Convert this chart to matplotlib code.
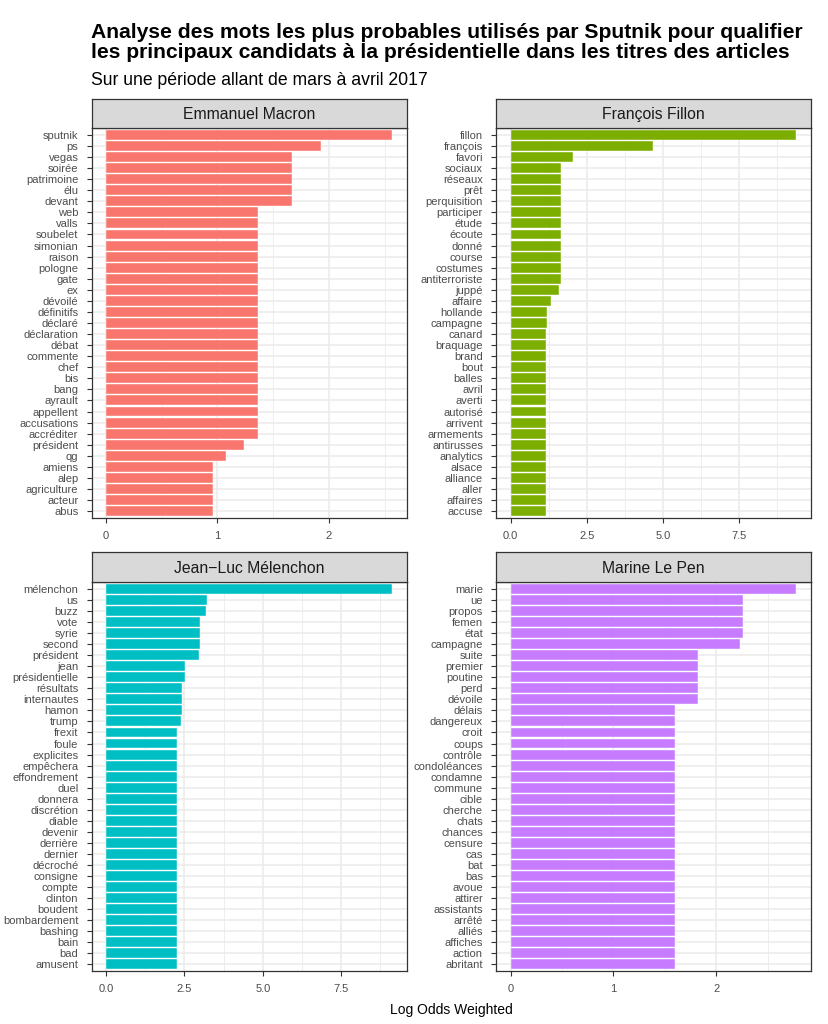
import matplotlib
matplotlib.use("Agg")
import matplotlib.pyplot as plt
import numpy as np

plt.rcParams['font.family'] = ['Liberation Sans', 'DejaVu Sans']

# ---------------- data ----------------
macron_words = ["sputnik", "ps", "vegas", "soirée", "patrimoine", "élu", "devant",
                "web", "valls", "soubelet", "simonian", "raison", "pologne", "gate", "ex",
                "dévoilé", "définitifs", "déclaré", "déclaration", "débat", "commente",
                "chef", "bis", "bang", "ayrault", "appellent", "accusations", "accréditer",
                "président", "qg", "amiens", "alep", "agriculture", "acteur", "abus"]
macron_values = [2.57, 1.93, 1.67, 1.67, 1.67, 1.67, 1.67,
                 1.36, 1.36, 1.36, 1.36, 1.36, 1.36, 1.36, 1.36,
                 1.36, 1.36, 1.36, 1.36, 1.36, 1.36,
                 1.36, 1.36, 1.36, 1.36, 1.36, 1.36, 1.36,
                 1.235, 1.075, 0.963, 0.963, 0.963, 0.963, 0.963]

fillon_words = ["fillon", "françois", "favori", "sociaux", "réseaux", "prêt", "perquisition",
                "participer", "étude", "écoute", "donné", "course", "costumes", "antiterroriste",
                "juppé", "affaire", "hollande", "campagne", "canard", "braquage", "brand", "bout",
                "balles", "avril", "averti", "autorisé", "arrivent", "armements", "antirusses",
                "analytics", "alsace", "alliance", "aller", "affaires", "accuse"]
fillon_values = [9.37, 4.66, 2.04, 1.66, 1.66, 1.66, 1.66,
                 1.66, 1.66, 1.66, 1.66, 1.66, 1.66, 1.66,
                 1.59, 1.34, 1.19, 1.19, 1.17, 1.17, 1.17, 1.17,
                 1.17, 1.17, 1.17, 1.17, 1.17, 1.17, 1.17,
                 1.17, 1.17, 1.17, 1.17, 1.17, 1.17]

melenchon_words = ["mélenchon", "us", "buzz", "vote", "syrie", "second", "président", "jean",
                   "présidentielle", "résultats", "internautes", "hamon", "trump", "frexit",
                   "foule", "explicites", "empêchera", "effondrement", "duel", "donnera",
                   "discrétion", "diable", "devenir", "derrière", "dernier", "décroché",
                   "consigne", "compte", "clinton", "boudent", "bombardement", "bashing",
                   "bain", "bad", "amusent"]
melenchon_values = [9.13, 3.23, 3.20, 3.00, 3.00, 3.00, 2.97, 2.53,
                    2.51, 2.41, 2.41, 2.41, 2.40, 2.25,
                    2.25, 2.25, 2.25, 2.25, 2.25, 2.25,
                    2.25, 2.25, 2.25, 2.25, 2.25, 2.25,
                    2.25, 2.25, 2.25, 2.25, 2.25, 2.25,
                    2.25, 2.25, 2.25]

lepen_words = ["marie", "ue", "propos", "femen", "état", "campagne", "suite", "premier",
               "poutine", "perd", "dévoile", "délais", "dangereux", "croit", "coups",
               "contrôle", "condoléances", "condamne", "commune", "cible", "cherche",
               "chats", "chances", "censure", "cas", "bat", "bas", "avoue", "attirer",
               "assistants", "arrêté", "alliés", "affiches", "action", "abritant"]
lepen_values = [2.78, 2.265, 2.265, 2.265, 2.265, 2.236, 1.82, 1.82,
                1.82, 1.82, 1.82, 1.60, 1.60, 1.60, 1.60,
                1.60, 1.60, 1.60, 1.60, 1.60, 1.60,
                1.60, 1.60, 1.60, 1.60, 1.60, 1.60, 1.60, 1.60,
                1.60, 1.60, 1.60, 1.60, 1.60, 1.60]

candidates = ["Emmanuel Macron", "François Fillon", "Jean\u2212Luc Mélenchon", "Marine Le Pen"]
colors = ["#F8766D", "#7CAE00", "#00BFC4", "#C77CFF"]
x_breaks = [[0, 1, 2], [0, 2.5, 5, 7.5], [0, 2.5, 5, 7.5], [0, 1, 2]]
x_labels = [["0", "1", "2"], ["0.0", "2.5", "5.0", "7.5"], ["0.0", "2.5", "5.0", "7.5"], ["0", "1", "2"]]

title_lines = ["Analyse des mots les plus probables utilisés par Sputnik pour qualifier",
               "les principaux candidats à la présidentielle dans les titres des articles"]
subtitle = "Sur une période allant de mars à avril 2017"
xlabel = "Log Odds Weighted"

words_all = [macron_words, fillon_words, melenchon_words, lepen_words]
values_all = [macron_values, fillon_values, melenchon_values, lepen_values]

# ---------------- layout (pixels) ----------------
W, H = 829, 1024
fig = plt.figure(figsize=(W / 100, H / 100), dpi=100)

cols = [(91.7, 406.7), (496.3, 810.7)]
rows = [(99.3, 128.3, 517.7), (552.3, 582.3, 971.0)]

def fr(x0, x1, y0, y1):
    return [x0 / W, 1 - y1 / H, (x1 - x0) / W, (y1 - y0) / H]

dark = "#333333"
grid = "#EBEBEB"

for k in range(4):
    r, c = divmod(k, 2)
    x0, x1 = cols[c]
    st, sb, pb = rows[r]
    ax = fig.add_axes(fr(x0, x1, sb, pb))
    sax = fig.add_axes(fr(x0, x1, st, sb))

    words = words_all[k]
    vals = np.array(values_all[k])
    n = len(words)
    ypos = np.arange(n)[::-1]
    vmax = vals.max()
    ax.set_xlim(-0.05 * vmax, 1.05 * vmax)
    ax.set_ylim(-0.6, n - 1 + 0.6)

    # grid
    br = x_breaks[k]
    step = br[1] - br[0]
    minors = [b + step / 2 for b in br + [br[-1] + step]]
    for m in minors:
        ax.axvline(m, color=grid, lw=0.6, zorder=0)
    for b in br:
        ax.axvline(b, color=grid, lw=1.1, zorder=0)
    for yy in ypos:
        ax.axhline(yy, color=grid, lw=1.1, zorder=0)

    ax.barh(ypos, vals, height=0.9, color=colors[k], edgecolor="white",
            linewidth=0.3, zorder=2)

    ax.set_yticks(ypos)
    ax.set_yticklabels(words)
    ax.set_xticks(br)
    ax.set_xticklabels(x_labels[k])
    ax.tick_params(axis="both", colors=dark, labelcolor="#4D4D4D",
                   labelsize=8.0, length=3.8, width=0.8, pad=5.8)
    for s in ax.spines.values():
        s.set_color(dark)
        s.set_linewidth(0.9)
    ax.set_facecolor("white")

    sax.set_facecolor("#D9D9D9")
    sax.set_xticks([])
    sax.set_yticks([])
    for s in sax.spines.values():
        s.set_color(dark)
        s.set_linewidth(0.9)
    sax.text(0.5, 0.47, candidates[k], ha="center", va="center",
             fontsize=11.3, color="#1A1A1A", transform=sax.transAxes)

fig.text(91 / W, 1 - 38.3 / H, title_lines[0], ha="left", va="baseline", fontsize=15.2,
         fontweight="bold", color="black")
fig.text(91 / W, 1 - 58.3 / H, title_lines[1], ha="left", va="baseline", fontsize=15.2,
         fontweight="bold", color="black")
fig.text(91 / W, 1 - 85 / H, subtitle, ha="left", va="baseline", fontsize=12.7,
         color="black")
fig.text(451 / W, 1 - 1010 / H, xlabel, ha="center", va="center", fontsize=10,
         color="black")

fig.savefig("out.png", dpi=100, facecolor="white")
